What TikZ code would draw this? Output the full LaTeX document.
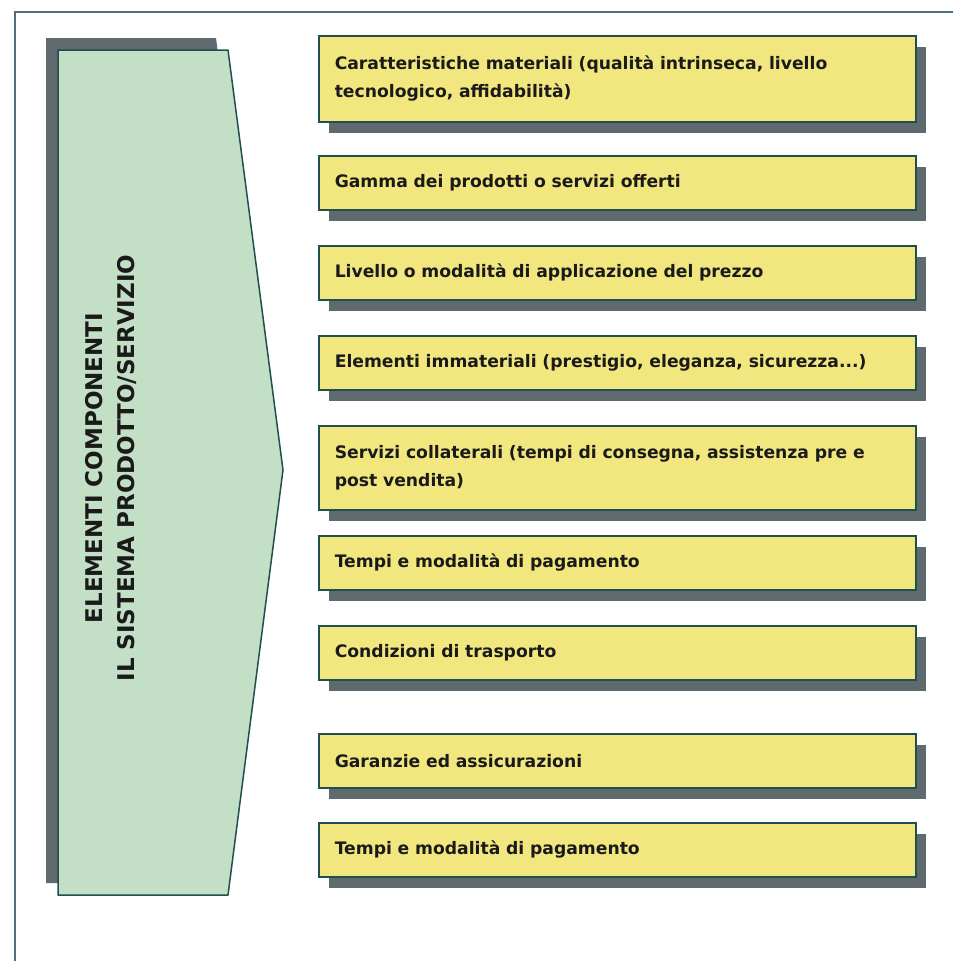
\documentclass[tikz,border=0pt]{standalone}
\usepackage{fontspec}
\setmainfont{DejaVu Sans}
\usetikzlibrary{shadows}
\definecolor{framec}{HTML}{4F6F80}
\definecolor{greenc}{HTML}{C3DFC5}
\definecolor{edgec}{HTML}{1F4F4F}
\definecolor{yellowc}{HTML}{F2E77E}
\definecolor{shadowc}{HTML}{5E6A6E}
\definecolor{textc}{HTML}{1A1A1A}
\tikzset{
  itembox/.style={draw=edgec, line width=1.5pt, fill=yellowc, anchor=north west,
    minimum width=597pt, text width=565pt, inner xsep=16pt, align=left,
    text=textc, font=\bfseries\fontsize{17.2}{28}\selectfont,
    general shadow={fill=shadowc, shadow xshift=10pt, shadow yshift=-11pt}},
}
\begin{document}
\begin{tikzpicture}[x=1pt,y=-1pt]
\useasboundingbox (0,0) rectangle (953,961);
\fill[white] (0,0) rectangle (953,961);
% frame
\draw[framec, line width=2pt] (15,961) -- (15,12) -- (953,12);
% green pentagon shadow and body
\fill[shadowc] (46,38) -- (216,38) -- (271,458) -- (216,883) -- (46,883) -- cycle;
\draw[edgec, line width=1.5pt, fill=greenc, line join=round]
  (58,50) -- (228,50) -- (283,470) -- (228,895) -- (58,895) -- cycle;
\node[rotate=90, align=center, text=textc, font=\bfseries\fontsize{23}{32}\selectfont]
  (title) at (111,468) {ELEMENTI COMPONENTI\\IL SISTEMA PRODOTTO/SERVIZIO};
% boxes
\node[itembox, minimum height=86pt] (b1) at (318,35) {Caratteristiche materiali (qualità intrinseca, livello\\tecnologico, affidabilità)};
\node[itembox, minimum height=54pt] (b2) at (318,155) {Gamma dei prodotti o servizi offerti};
\node[itembox, minimum height=54pt] (b3) at (318,245) {Livello o modalità di applicazione del prezzo};
\node[itembox, minimum height=54pt] (b4) at (318,335) {Elementi immateriali (prestigio, eleganza, sicurezza...)};
\node[itembox, minimum height=84pt] (b5) at (318,425) {Servizi collaterali (tempi di consegna, assistenza pre e\\post vendita)};
\node[itembox, minimum height=54pt] (b6) at (318,535) {Tempi e modalità di pagamento};
\node[itembox, minimum height=54pt] (b7) at (318,625) {Condizioni di trasporto};
\node[itembox, minimum height=54pt] (b8) at (318,733) {Garanzie ed assicurazioni};
\node[itembox, minimum height=54pt] (b9) at (318,822) {Tempi e modalità di pagamento};
\end{tikzpicture}
\end{document}
